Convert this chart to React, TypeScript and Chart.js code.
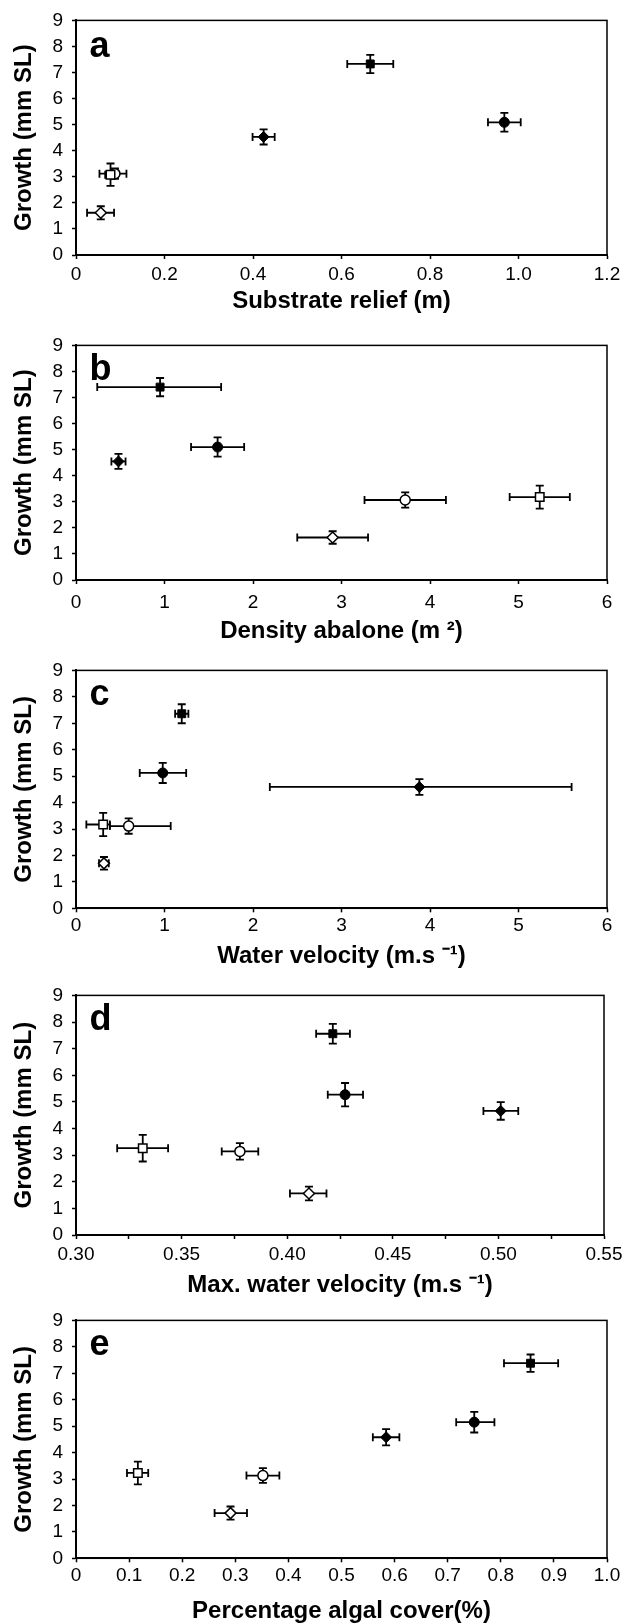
import React, { useEffect, useRef } from 'react';
import { Chart, registerables } from 'chart.js';

Chart.register(...registerables);

const FONT = '"Liberation Sans", Arial, Helvetica, sans-serif';

// Marker order in every panel: open diamond, open circle, open square, filled diamond, filled circle, filled square
const MARKER_STYLE = ['rectRot', 'circle', 'rect', 'rectRot', 'circle', 'rect'];
const MARKER_FILL = ['#ffffff', '#ffffff', '#ffffff', '#000000', '#000000', '#000000'];
const MARKER_RADIUS = [5.5, 5, 6, 5.5, 5, 5.6];
const MARKER_BORDER = [1.5, 1.5, 1.5, 1, 1, 1];

const Y_TICKS = [0, 1, 2, 3, 4, 5, 6, 7, 8, 9];
const Y_LABELS = ['0', '1', '2', '3', '4', '5', '6', '7', '8', '9'];
const Y_TITLE = 'Growth (mm SL)';

// Panel a — substrate relief
const A_X = [0.056, 0.088, 0.078, 0.424, 0.968, 0.665];
const A_X_LOW = [0.025, 0.053, 0.066, 0.399, 0.931, 0.613];
const A_X_HIGH = [0.086, 0.114, 0.091, 0.449, 1.005, 0.717];
const A_Y = [1.62, 3.12, 3.08, 4.53, 5.09, 7.33];
const A_Y_ERR = [0.25, 0.2, 0.43, 0.29, 0.36, 0.35];
const A_X_TICKS = [0, 0.2, 0.4, 0.6, 0.8, 1.0, 1.2];
const A_X_LABELS = ['0', '0.2', '0.4', '0.6', '0.8', '1.0', '1.2'];

// Panel b — density abalone
const B_X = [2.9, 3.72, 5.24, 0.48, 1.6, 0.95];
const B_X_LOW = [2.5, 3.26, 4.9, 0.4, 1.3, 0.24];
const B_X_HIGH = [3.3, 4.18, 5.58, 0.56, 1.9, 1.64];
const B_Y = [1.63, 3.07, 3.18, 4.55, 5.1, 7.4];
const B_Y_ERR = [0.24, 0.29, 0.44, 0.29, 0.37, 0.35];
const B_X_TICKS = [0, 1, 2, 3, 4, 5, 6];
const B_X_LABELS = ['0', '1', '2', '3', '4', '5', '6'];

// Panel c — water velocity
const C_X = [0.316, 0.595, 0.307, 3.88, 0.98, 1.195];
const C_X_LOW = [0.26, 0.383, 0.117, 2.19, 0.72, 1.12];
const C_X_HIGH = [0.37, 1.07, 0.383, 5.6, 1.245, 1.27];
const C_Y = [1.7, 3.11, 3.17, 4.59, 5.12, 7.36];
const C_Y_ERR = [0.24, 0.29, 0.44, 0.3, 0.38, 0.36];
const C_X_TICKS = [0, 1, 2, 3, 4, 5, 6];
const C_X_LABELS = ['0', '1', '2', '3', '4', '5', '6'];

// Panel d — max. water velocity
const D_X = [0.4103, 0.3776, 0.3316, 0.5011, 0.4274, 0.4216];
const D_X_LOW = [0.4013, 0.369, 0.3195, 0.4929, 0.4192, 0.4137];
const D_X_HIGH = [0.4186, 0.3863, 0.3436, 0.5094, 0.4359, 0.4297];
const D_Y = [1.56, 3.14, 3.26, 4.66, 5.27, 7.56];
const D_Y_ERR = [0.26, 0.31, 0.5, 0.33, 0.44, 0.37];
const D_X_TICKS = [0.3, 0.325, 0.35, 0.375, 0.4, 0.425, 0.45, 0.475, 0.5, 0.525, 0.55];
const D_X_LABELS = ['0.30', '', '0.35', '', '0.40', '', '0.45', '', '0.50', '', '0.55'];

// Panel e — percentage algal cover
const E_X = [0.291, 0.352, 0.1165, 0.584, 0.75, 0.856];
const E_X_LOW = [0.261, 0.321, 0.096, 0.559, 0.716, 0.806];
const E_X_HIGH = [0.322, 0.383, 0.136, 0.609, 0.788, 0.908];
const E_Y = [1.71, 3.13, 3.23, 4.58, 5.15, 7.38];
const E_Y_ERR = [0.25, 0.28, 0.43, 0.31, 0.39, 0.33];
const E_X_TICKS = [0, 0.1, 0.2, 0.3, 0.4, 0.5, 0.6, 0.7, 0.8, 0.9, 1.0];
const E_X_LABELS = ['0', '0.1', '0.2', '0.3', '0.4', '0.5', '0.6', '0.7', '0.8', '0.9', '1.0'];

type PanelCfg = {
  letter: string;
  title: string;
  x: number[]; xLow: number[]; xHigh: number[]; y: number[]; yErr: number[];
  xTicks: number[]; xLabels: string[];
  top: number; height: number; padTop: number; xAxisH: number;
  tickPad: number; titlePad: number; letterDy: number;
};

const PANELS: PanelCfg[] = [
  { letter: 'a', title: 'Substrate relief (m)', x: A_X, xLow: A_X_LOW, xHigh: A_X_HIGH, y: A_Y, yErr: A_Y_ERR,
    xTicks: A_X_TICKS, xLabels: A_X_LABELS, top: 0, height: 325, padTop: 13.3, xAxisH: 70, tickPad: 4.5, titlePad: 11.3, letterDy: 37 },
  { letter: 'b', title: 'Density abalone (m \u00B2)', x: B_X, xLow: B_X_LOW, xHigh: B_X_HIGH, y: B_Y, yErr: B_Y_ERR,
    xTicks: B_X_TICKS, xLabels: B_X_LABELS, top: 325, height: 325, padTop: 13.3, xAxisH: 70, tickPad: 7, titlePad: 6.3, letterDy: 35 },
  { letter: 'c', title: 'Water velocity (m.s \u207B\u00B9)', x: C_X, xLow: C_X_LOW, xHigh: C_X_HIGH, y: C_Y, yErr: C_Y_ERR,
    xTicks: C_X_TICKS, xLabels: C_X_LABELS, top: 650, height: 325, padTop: 15, xAxisH: 66.7, tickPad: 2, titlePad: 6.3, letterDy: 35 },
  { letter: 'd', title: 'Max. water velocity (m.s \u207B\u00B9)', x: D_X, xLow: D_X_LOW, xHigh: D_X_HIGH, y: D_Y, yErr: D_Y_ERR,
    xTicks: D_X_TICKS, xLabels: D_X_LABELS, top: 975, height: 325, padTop: 18.3, xAxisH: 65, tickPad: 4.5, titlePad: 3, letterDy: 35 },
  { letter: 'e', title: 'Percentage algal cover(%)', x: E_X, xLow: E_X_LOW, xHigh: E_X_HIGH, y: E_Y, yErr: E_Y_ERR,
    xTicks: E_X_TICKS, xLabels: E_X_LABELS, top: 1300, height: 324, padTop: 18.3, xAxisH: 65.7, tickPad: 2, titlePad: 0.3, letterDy: 35 },
];

function Panel({ cfg }: { cfg: PanelCfg }) {
  const ref = useRef<HTMLCanvasElement | null>(null);
  useEffect(() => {
    const canvas = ref.current;
    if (!canvas) return;

    const errorBars = {
      id: 'errorBars',
      beforeDatasetsDraw(chart: any) {
        const { ctx } = chart;
        const xs = chart.scales.x;
        const ys = chart.scales.y;
        const cap = 4;
        ctx.save();
        ctx.strokeStyle = '#000';
        ctx.lineWidth = 1.8;
        for (let i = 0; i < cfg.x.length; i++) {
          const px = xs.getPixelForValue(cfg.x[i]);
          const py = ys.getPixelForValue(cfg.y[i]);
          const x1 = xs.getPixelForValue(cfg.xLow[i]);
          const x2 = xs.getPixelForValue(cfg.xHigh[i]);
          const y1 = ys.getPixelForValue(cfg.y[i] - cfg.yErr[i]);
          const y2 = ys.getPixelForValue(cfg.y[i] + cfg.yErr[i]);
          ctx.beginPath();
          ctx.moveTo(x1, py); ctx.lineTo(x2, py);
          ctx.moveTo(x1, py - cap); ctx.lineTo(x1, py + cap);
          ctx.moveTo(x2, py - cap); ctx.lineTo(x2, py + cap);
          ctx.moveTo(px, y1); ctx.lineTo(px, y2);
          ctx.moveTo(px - cap, y1); ctx.lineTo(px + cap, y1);
          ctx.moveTo(px - cap, y2); ctx.lineTo(px + cap, y2);
          ctx.stroke();
        }
        ctx.restore();
      },
    };

    const frameAndLetter = {
      id: 'frameAndLetter',
      afterDraw(chart: any) {
        const { ctx, chartArea: a } = chart;
        ctx.save();
        ctx.strokeStyle = '#000';
        ctx.lineWidth = 1.5;
        ctx.strokeRect(a.left, a.top, a.right - a.left, a.bottom - a.top);
        ctx.fillStyle = '#000';
        ctx.font = `bold 36px ${FONT}`;
        ctx.textAlign = 'left';
        ctx.textBaseline = 'alphabetic';
        ctx.fillText(cfg.letter, a.left + 13.5, a.top + cfg.letterDy);
        ctx.restore();
      },
    };

    const tickFont = { family: FONT, size: 19 };
    const titleFont = { family: FONT, size: 24, weight: 'bold' as const, lineHeight: 1 };

    const chart = new Chart(canvas, {
      type: 'scatter',
      data: {
        datasets: [
          {
            data: cfg.x.map((xv, i) => ({ x: xv, y: cfg.y[i] })),
            pointStyle: MARKER_STYLE as any,
            pointRadius: MARKER_RADIUS,
            pointHoverRadius: MARKER_RADIUS,
            pointBackgroundColor: MARKER_FILL,
            pointBorderColor: '#000000',
            pointBorderWidth: MARKER_BORDER,
            showLine: false,
          } as any,
        ],
      },
      options: {
        animation: false,
        responsive: false,
        events: [],
        layout: { padding: { left: 0, right: 20, top: cfg.padTop, bottom: 0 } },
        plugins: {
          legend: { display: false },
          tooltip: { enabled: false },
        },
        scales: {
          x: {
            type: 'linear',
            position: 'bottom',
            min: cfg.xTicks[0],
            max: cfg.xTicks[cfg.xTicks.length - 1],
            afterBuildTicks: (s: any) => {
              s.ticks = cfg.xTicks.map((v) => ({ value: v }));
            },
            afterFit: (s: any) => {
              s.height = cfg.xAxisH;
            },
            ticks: {
              autoSkip: false,
              maxRotation: 0,
              minRotation: 0,
              padding: cfg.tickPad,
              color: '#000',
              font: tickFont,
              callback: (_v: any, i: number) => cfg.xLabels[i],
            },
            grid: { drawOnChartArea: false, drawTicks: true, tickLength: 4, tickColor: '#000', tickWidth: 1.5 },
            border: { display: true, color: '#000', width: 2 },
            title: { display: true, text: cfg.title, color: '#000', font: titleFont, padding: { top: 0, bottom: cfg.titlePad } },
          },
          y: {
            type: 'linear',
            position: 'left',
            min: Y_TICKS[0],
            max: Y_TICKS[Y_TICKS.length - 1],
            afterBuildTicks: (s: any) => {
              s.ticks = Y_TICKS.map((v) => ({ value: v }));
            },
            afterFit: (s: any) => {
              s.width = 76;
            },
            ticks: {
              autoSkip: false,
              padding: 9,
              color: '#000',
              font: tickFont,
              callback: (_v: any, i: number) => Y_LABELS[i],
            },
            grid: { drawOnChartArea: false, drawTicks: true, tickLength: 4, tickColor: '#000', tickWidth: 1.5 },
            border: { display: true, color: '#000', width: 2 },
            title: { display: true, text: Y_TITLE, color: '#000', font: titleFont, padding: { top: 12, bottom: 0 } },
          },
        },
      } as any,
      plugins: [errorBars, frameAndLetter],
    });
    return () => chart.destroy();
  }, [cfg]);

  return (
    <canvas
      ref={ref}
      width={627}
      height={cfg.height}
      style={{ position: 'absolute', left: 0, top: cfg.top, width: 627, height: cfg.height, display: 'block' }}
    />
  );
}

export default function App() {
  return (
    <div style={{ position: 'absolute', left: 0, top: 0, width: 627, height: 1624, background: '#ffffff', overflow: 'hidden' }}>
      {PANELS.map((p) => (
        <Panel key={p.letter} cfg={p} />
      ))}
    </div>
  );
}
